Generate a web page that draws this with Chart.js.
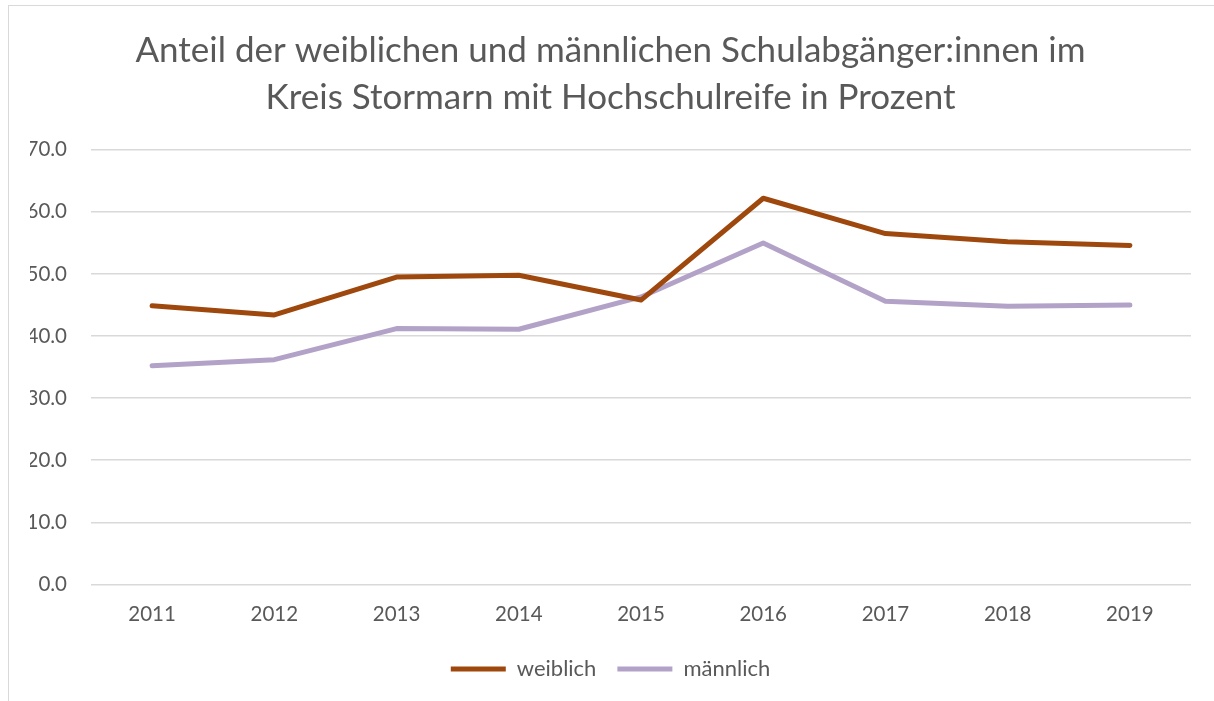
<!DOCTYPE html>
<html>
<head>
<meta charset="utf-8">
<script src="https://cdn.jsdelivr.net/npm/chart.js@4"></script>
<style>
    body { margin: 0; background: #fff; }
    #frame { position: absolute; left: 8px; top: 5px; width: 1220px; height: 710px; border: 1px solid #d9d9d9; }
    #wrap { position: absolute; left: 0; top: 0; width: 1214px; height: 701px; }
</style>
</head>
<body>
<div id="frame"></div>
<div id="wrap"><canvas id="myChart" width="1214" height="701"></canvas></div>
<script>
// Jahre und Anteile (Prozent)
const years = ['2011', '2012', '2013', '2014', '2015', '2016', '2017', '2018', '2019'];
const weiblich = [44.9, 43.4, 49.5, 49.8, 45.8, 62.2, 56.5, 55.2, 54.6];
const maennlich = [35.2, 36.2, 41.2, 41.1, 46.3, 55.0, 45.6, 44.8, 45.0];
const yTicks = [0, 10, 20, 30, 40, 50, 60, 70];

const titleLines = [
    'Anteil der weiblichen und männlichen Schulabgänger:innen im',
    'Kreis Stormarn mit Hochschulreife in Prozent'
];

const textColor = '#595959';
const fontFamily = 'Lato, "Open Sans", sans-serif';

const ctx = document.getElementById('myChart').getContext('2d');

new Chart(ctx, {
    type: 'line',
    data: {
        labels: years,
        datasets: [
            {
                label: 'weiblich',
                data: weiblich,
                borderColor: '#9e480e',
                backgroundColor: '#9e480e',
                borderWidth: 5,
                borderCapStyle: 'round',
                borderJoinStyle: 'round',
                pointRadius: 0,
                tension: 0
            },
            {
                label: 'männlich',
                data: maennlich,
                borderColor: '#b3a2c7',
                backgroundColor: '#b3a2c7',
                borderWidth: 5,
                borderCapStyle: 'round',
                borderJoinStyle: 'round',
                pointRadius: 0,
                tension: 0
            }
        ]
    },
    options: {
        responsive: false,
        animation: false,
        layout: { padding: { left: 30, right: 23, bottom: 11 } },
        plugins: {
            title: {
                display: true,
                text: titleLines,
                color: textColor,
                font: { family: fontFamily, size: 35, weight: 'normal', lineHeight: 1.34 },
                padding: { top: 27, bottom: 29 }
            },
            legend: {
                position: 'bottom',
                labels: {
                    color: textColor,
                    font: { family: fontFamily, size: 22 },
                    usePointStyle: true,
                    pointStyle: 'line',
                    pointStyleWidth: 55,
                    padding: 21
                }
            },
            tooltip: { enabled: false }
        },
        scales: {
            x: {
                offset: true,
                grid: { display: false },
                border: { display: false },
                ticks: {
                    color: textColor,
                    font: { family: fontFamily, size: 20.5 },
                    padding: 10,
                    maxRotation: 0
                }
            },
            y: {
                min: 0,
                max: 70,
                afterBuildTicks: scale => {
                    scale.ticks = yTicks.map(v => ({ value: v }));
                },
                afterFit: scale => {
                    scale.width = 61;
                },
                grid: { color: '#d9d9d9', lineWidth: 1.5, drawTicks: false },
                border: { display: false },
                ticks: {
                    color: textColor,
                    font: { family: fontFamily, size: 20.5 },
                    padding: 24,
                    callback: v => v.toFixed(1)
                }
            }
        }
    }
});
</script>
</body>
</html>
